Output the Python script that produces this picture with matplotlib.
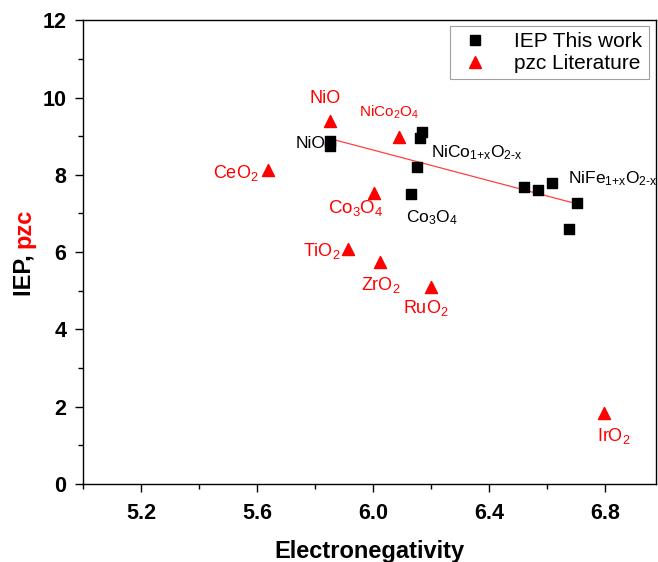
import numpy as np
import matplotlib
matplotlib.use("Agg")
import matplotlib.pyplot as plt
from matplotlib.lines import Line2D

plt.rcParams['font.family'] = ['Liberation Sans', 'DejaVu Sans']
plt.rcParams['mathtext.fontset'] = 'custom'
plt.rcParams['mathtext.rm'] = 'Liberation Sans'
plt.rcParams['mathtext.it'] = 'Liberation Sans'
plt.rcParams['mathtext.default'] = 'regular'

# IEP measured in this work
iep_x = [5.85, 5.85, 6.17, 6.16, 6.15, 6.13, 6.52, 6.567, 6.615, 6.704, 6.675]
iep_y = [8.75, 8.87, 9.10, 8.95, 8.20, 7.50, 7.69, 7.60, 7.79, 7.28, 6.59]

# pzc from literature
pzc_names = ["NiO", "NiCo$_2$O$_4$", "CeO$_2$", "Co$_3$O$_4$", "TiO$_2$",
             "ZrO$_2$", "RuO$_2$", "IrO$_2$"]
pzc_x = [5.85, 6.09, 5.638, 6.004, 5.912, 6.025, 6.198, 6.797]
pzc_y = [9.39, 8.98, 8.12, 7.53, 6.08, 5.75, 5.09, 1.84]

fig = plt.figure(figsize=(6.58, 5.62), dpi=100)
ax = fig.add_axes([0.126, 0.139, 0.871, 0.825])

ax.scatter(iep_x, iep_y, marker='s', s=55, color='black', zorder=3,
           label='IEP This work')
ax.scatter(pzc_x, pzc_y, marker='^', s=75, color='#ff0000', zorder=3,
           label='pzc Literature')

# linear fit through the IEP points
coef = np.polyfit(iep_x, iep_y, 1)
fx = np.array([min(iep_x), max(iep_x)])
ax.plot(fx, np.polyval(coef, fx), color='#ff4040', lw=0.9, zorder=2)

# labels for the measured materials
blk = dict(color='black', fontsize=12.5, va='center')
ax.text(5.835, 8.8, "NiO", ha='right', **blk)
ax.text(6.2, 8.58, r"NiCo$_{\text{1+x}}$O$_{\text{2-x}}$", ha='left', **blk)
ax.text(6.112, 6.9, "Co$_3$O$_4$", ha='left', **blk)
ax.text(6.67, 7.9, r"NiFe$_{\text{1+x}}$O$_{\text{2-x}}$", ha='left', **blk)

# labels for the literature values
red = '#ff0000'
lab = dict(color=red, va='center')
ax.text(5.835, 9.98, pzc_names[0], fontsize=13, ha='center', **lab)
ax.text(6.055, 9.62, pzc_names[1], fontsize=11, ha='center', **lab)
ax.text(5.605, 8.05, pzc_names[2], fontsize=13, ha='right', **lab)
ax.text(5.94, 7.15, pzc_names[3], fontsize=13.5, ha='center', **lab)
ax.text(5.888, 6.03, pzc_names[4], fontsize=13, ha='right', **lab)
ax.text(6.025, 5.15, pzc_names[5], fontsize=13, ha='center', **lab)
ax.text(6.18, 4.55, pzc_names[6], fontsize=13, ha='center', **lab)
ax.text(6.83, 1.25, pzc_names[7], fontsize=13, ha='center', **lab)

ax.set_xlim(5.0, 6.975)
ax.set_ylim(0, 12)
ax.set_xticks([5.2, 5.6, 6.0, 6.4, 6.8])
ax.set_xticks([5.0, 5.4, 5.8, 6.2, 6.6], minor=True)
ax.set_yticks([0, 2, 4, 6, 8, 10, 12])
ax.set_yticks([1, 3, 5, 7, 9, 11], minor=True)
ax.set_xticklabels(["5.2", "5.6", "6.0", "6.4", "6.8"])
for t in ax.get_xticklabels() + ax.get_yticklabels():
    t.set_fontweight('bold')
    t.set_fontsize(15.5)
ax.tick_params(which='major', direction='out', length=6, width=1, pad=6)
ax.tick_params(which='minor', direction='out', length=3.5, width=1)
ax.tick_params(axis='x', which='major', pad=8)
for s in ax.spines.values():
    s.set_linewidth(1)

ax.set_xlabel("Electronegativity", fontsize=17, fontweight='bold', labelpad=11)

# two-colour y label, centred on the axes
fig.canvas.draw()
r = fig.canvas.get_renderer()
t1 = fig.text(0.036, 0.5, "IEP, ", rotation=90, fontsize=17, fontweight='bold',
              color='black', ha='center', va='bottom')
t2 = fig.text(0.036, 0.5, "pzc", rotation=90, fontsize=17, fontweight='bold',
              color=red, ha='center', va='bottom')
fig.canvas.draw()
inv = fig.transFigure.inverted()
b1 = t1.get_window_extent(r).transformed(inv)
b2 = t2.get_window_extent(r).transformed(inv)
total = b1.height + b2.height
y_mid = 0.139 + 0.825 / 2
t1.set_y(y_mid - total / 2)
t2.set_y(y_mid - total / 2 + b1.height)

handles = [Line2D([], [], marker='s', ls='', color='black', markersize=7),
           Line2D([], [], marker='^', ls='', color=red, markersize=8.5)]
leg = ax.legend(handles, ['IEP This work', 'pzc Literature'], loc='upper right',
                bbox_to_anchor=(0.987, 0.988), borderaxespad=0, fontsize=15,
                frameon=True, fancybox=False, edgecolor='#888888',
                handletextpad=1.0, borderpad=0.3, labelspacing=0.15,
                handlelength=1.8)
leg.get_frame().set_linewidth(0.8)

fig.savefig("out.png", dpi=100)
